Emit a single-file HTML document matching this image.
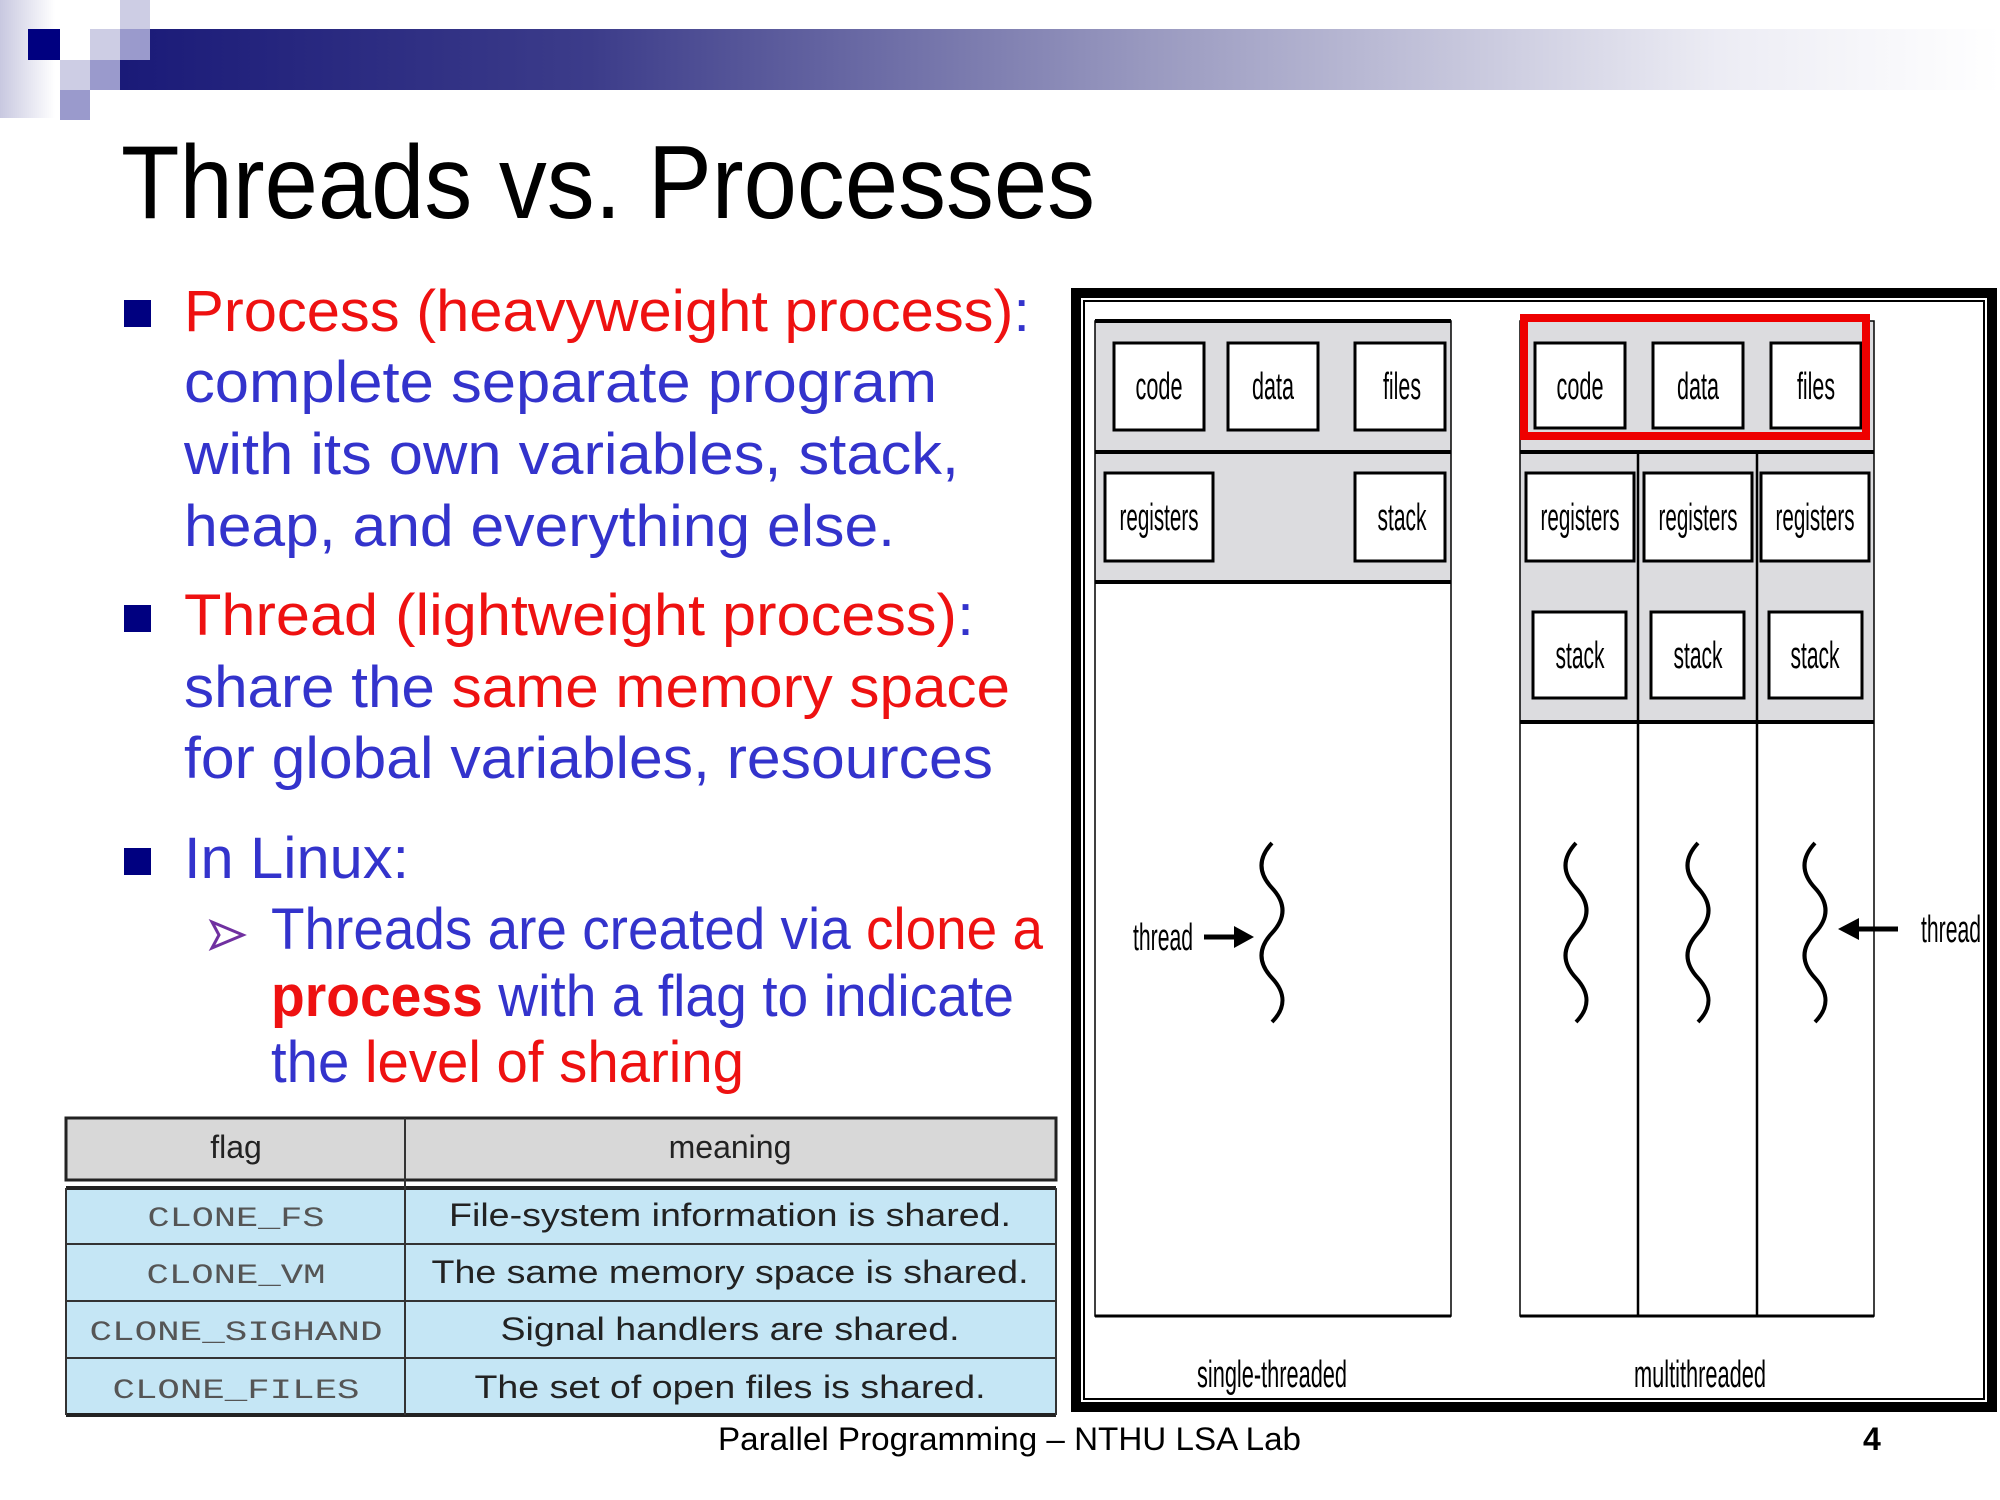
<!DOCTYPE html>
<html><head><meta charset="utf-8"><style>
html,body{margin:0;padding:0;background:#fff;}
svg{display:block;}
</style></head><body>
<svg width="2000" height="1500" viewBox="0 0 2000 1500" xmlns="http://www.w3.org/2000/svg">
<defs>
<linearGradient id="bar" x1="0" x2="1" y1="0" y2="0">
<stop offset="0" stop-color="#1a1a78"/><stop offset="0.25" stop-color="#3c3c8a"/><stop offset="0.55" stop-color="#9a9ac0"/><stop offset="0.85" stop-color="#ececf4"/><stop offset="1" stop-color="#ffffff"/>
</linearGradient>
<linearGradient id="lstrip" x1="0" x2="1"><stop offset="0" stop-color="#c8c8e0"/><stop offset="1" stop-color="#ffffff"/></linearGradient>
</defs>
<rect x="0" y="0" width="55" height="118" fill="url(#lstrip)"/>
<rect x="120" y="29" width="1880" height="61" fill="url(#bar)"/>
<rect x="28" y="29" width="32" height="31" fill="#000080"/>
<rect x="90" y="29" width="30" height="31" fill="#cdcde4"/>
<rect x="120" y="0" width="30" height="29" fill="#cdcde4"/>
<rect x="120" y="29" width="30" height="31" fill="#9a9acc"/>
<rect x="60" y="60" width="30" height="30" fill="#cdcde4"/>
<rect x="90" y="60" width="30" height="30" fill="#9a9acc"/>
<rect x="60" y="90" width="30" height="30" fill="#9a9acc"/>

<g font-family="Liberation Sans, sans-serif">
<text x="121" y="218" font-size="104" fill="#000" textLength="974" lengthAdjust="spacingAndGlyphs">Threads vs. Processes</text>

<rect x="124" y="300" width="27" height="27" fill="#000080"/>
<rect x="124" y="605" width="27" height="27" fill="#000080"/>
<rect x="124" y="848" width="27" height="27" fill="#000080"/>
<path d="M212 922 L243 935 L212 948 L219 935 Z" fill="none" stroke="#7030a0" stroke-width="3"/>

<g font-size="58">
<text x="184" y="331" fill="#ee1111" textLength="846" lengthAdjust="spacingAndGlyphs">Process (heavyweight process)<tspan fill="#3333cc">:</tspan></text>
<text x="184" y="402" fill="#3333cc" textLength="753" lengthAdjust="spacingAndGlyphs">complete separate program</text>
<text x="184" y="474" fill="#3333cc" textLength="775" lengthAdjust="spacingAndGlyphs">with its own variables, stack,</text>
<text x="184" y="546" fill="#3333cc" textLength="711" lengthAdjust="spacingAndGlyphs">heap, and everything else.</text>
<text x="184" y="635" fill="#ee1111" textLength="790" lengthAdjust="spacingAndGlyphs">Thread (lightweight process)<tspan fill="#3333cc">:</tspan></text>
<text x="184" y="707" fill="#3333cc" textLength="826" lengthAdjust="spacingAndGlyphs">share the <tspan fill="#ee1111">same memory space</tspan></text>
<text x="184" y="778" fill="#3333cc" textLength="809" lengthAdjust="spacingAndGlyphs">for global variables, resources</text>
<text x="184" y="878" fill="#3333cc" textLength="225" lengthAdjust="spacingAndGlyphs">In Linux:</text>
<text x="271" y="949" fill="#3333cc" textLength="772" lengthAdjust="spacingAndGlyphs">Threads are created via <tspan fill="#ee1111">clone a</tspan></text>
<text x="271" y="1016" fill="#3333cc" textLength="743" lengthAdjust="spacingAndGlyphs"><tspan fill="#ee1111" font-weight="bold">process</tspan> with a flag to indicate</text>
<text x="271" y="1082" fill="#3333cc" textLength="473" lengthAdjust="spacingAndGlyphs">the <tspan fill="#ee1111">level of sharing</tspan></text>
</g>

<rect x="66" y="1118" width="990" height="62" fill="#d8d8d8" stroke="#222" stroke-width="3"/>
<rect x="66" y="1188" width="990" height="227" fill="#c5e6f5"/>
<line x1="66" y1="1188" x2="1056" y2="1188" stroke="#222" stroke-width="4"/>
<line x1="66" y1="1415" x2="1056" y2="1415" stroke="#222" stroke-width="4"/>
<g stroke="#333" stroke-width="2">
<line x1="66" y1="1244" x2="1056" y2="1244"/><line x1="66" y1="1301" x2="1056" y2="1301"/><line x1="66" y1="1358" x2="1056" y2="1358"/>
<line x1="66" y1="1188" x2="66" y2="1415"/><line x1="1056" y1="1188" x2="1056" y2="1415"/>
<line x1="405" y1="1118" x2="405" y2="1415"/>
</g>
<g font-size="32" fill="#222" text-anchor="middle">
<text x="236" y="1158">flag</text>
<text x="730" y="1158">meaning</text>
<text x="730" y="1226" textLength="562" lengthAdjust="spacingAndGlyphs">File-system information is shared.</text>
<text x="730" y="1283" textLength="597" lengthAdjust="spacingAndGlyphs">The same memory space is shared.</text>
<text x="730" y="1340" textLength="459" lengthAdjust="spacingAndGlyphs">Signal handlers are shared.</text>
<text x="730" y="1398" textLength="511" lengthAdjust="spacingAndGlyphs">The set of open files is shared.</text>
</g>
<g font-family="Liberation Mono, monospace" font-size="28" fill="#555" text-anchor="middle">
<text x="236" y="1226" textLength="177" lengthAdjust="spacingAndGlyphs">CLONE_FS</text>
<text x="236" y="1283" textLength="179" lengthAdjust="spacingAndGlyphs">CLONE_VM</text>
<text x="236" y="1340" textLength="293" lengthAdjust="spacingAndGlyphs">CLONE_SIGHAND</text>
<text x="236" y="1398" textLength="247" lengthAdjust="spacingAndGlyphs">CLONE_FILES</text>
</g>

<text x="718" y="1450" font-size="32" fill="#000" textLength="583" lengthAdjust="spacingAndGlyphs">Parallel Programming – NTHU LSA Lab</text>
<text x="1863" y="1450" font-size="32" font-weight="bold" fill="#000">4</text>

<rect x="1076" y="293" width="916" height="1114" fill="#fff" stroke="#000" stroke-width="10"/>
<rect x="1084" y="301" width="900" height="1098" fill="none" stroke="#000" stroke-width="2"/>

<rect x="1095" y="321" width="356" height="261" fill="#dcdcdf"/>
<rect x="1095" y="321" width="356" height="995" fill="none" stroke="#000" stroke-width="1.5"/>
<g stroke="#000" stroke-width="4">
<line x1="1095" y1="321" x2="1451" y2="321"/><line x1="1095" y1="452" x2="1451" y2="452"/><line x1="1095" y1="582" x2="1451" y2="582"/><line x1="1095" y1="1316" x2="1451" y2="1316" stroke-width="3"/>
</g>
<rect x="1520" y="321" width="354" height="401" fill="#dcdcdf"/>
<rect x="1520" y="321" width="354" height="995" fill="none" stroke="#000" stroke-width="1.5"/>
<g stroke="#000" stroke-width="4">
<line x1="1520" y1="452" x2="1874" y2="452"/><line x1="1520" y1="722" x2="1874" y2="722"/><line x1="1520" y1="1316" x2="1874" y2="1316" stroke-width="3"/>
</g>
<g stroke="#000" stroke-width="2.5">
<line x1="1638" y1="452" x2="1638" y2="1316"/><line x1="1757" y1="452" x2="1757" y2="1316"/>
</g>

<g fill="#fff" stroke="#000" stroke-width="3">
<rect x="1114" y="343" width="90" height="87"/>
<rect x="1228" y="343" width="90" height="87"/>
<rect x="1355" y="343" width="90" height="87"/>
<rect x="1105" y="473" width="108" height="88"/>
<rect x="1355" y="473" width="90" height="88"/>
<rect x="1535" y="343" width="90" height="85"/>
<rect x="1653" y="343" width="90" height="85"/>
<rect x="1771" y="343" width="90" height="85"/>
<rect x="1526" y="473" width="108" height="88"/>
<rect x="1644" y="473" width="108" height="88"/>
<rect x="1761" y="473" width="108" height="88"/>
<rect x="1533" y="612" width="93" height="86"/>
<rect x="1651" y="612" width="93" height="86"/>
<rect x="1769" y="612" width="93" height="86"/>
</g>
<rect x="1524" y="318" width="342" height="118" fill="none" stroke="#ee0000" stroke-width="8"/>

<g font-size="38" fill="#000" text-anchor="middle">
<text x="1159" y="399" textLength="47" lengthAdjust="spacingAndGlyphs">code</text>
<text x="1273" y="399" textLength="42" lengthAdjust="spacingAndGlyphs">data</text>
<text x="1402" y="399" textLength="38" lengthAdjust="spacingAndGlyphs">files</text>
<text x="1159" y="530" textLength="79" lengthAdjust="spacingAndGlyphs">registers</text>
<text x="1402" y="530" textLength="49" lengthAdjust="spacingAndGlyphs">stack</text>
<text x="1580" y="399" textLength="47" lengthAdjust="spacingAndGlyphs">code</text>
<text x="1698" y="399" textLength="42" lengthAdjust="spacingAndGlyphs">data</text>
<text x="1816" y="399" textLength="38" lengthAdjust="spacingAndGlyphs">files</text>
<text x="1580" y="530" textLength="79" lengthAdjust="spacingAndGlyphs">registers</text>
<text x="1698" y="530" textLength="79" lengthAdjust="spacingAndGlyphs">registers</text>
<text x="1815" y="530" textLength="79" lengthAdjust="spacingAndGlyphs">registers</text>
<text x="1580" y="668" textLength="49" lengthAdjust="spacingAndGlyphs">stack</text>
<text x="1698" y="668" textLength="49" lengthAdjust="spacingAndGlyphs">stack</text>
<text x="1815" y="668" textLength="49" lengthAdjust="spacingAndGlyphs">stack</text>
<text x="1163" y="950" textLength="60" lengthAdjust="spacingAndGlyphs">thread</text>
<text x="1951" y="942" textLength="60" lengthAdjust="spacingAndGlyphs">thread</text>
<text x="1272" y="1387" textLength="150" lengthAdjust="spacingAndGlyphs">single-threaded</text>
<text x="1700" y="1387" textLength="132" lengthAdjust="spacingAndGlyphs">multithreaded</text>
</g>

<g fill="none" stroke="#000" stroke-width="4">
<path d="M1272 843 c-14 15 -14 30 0 45 c14 15 14 30 0 45 c-14 15 -14 30 0 45 c14 15 14 30 0 44"/>
<path d="M1576 843 c-14 15 -14 30 0 45 c14 15 14 30 0 45 c-14 15 -14 30 0 45 c14 15 14 30 0 44"/>
<path d="M1698 843 c-14 15 -14 30 0 45 c14 15 14 30 0 45 c-14 15 -14 30 0 45 c14 15 14 30 0 44"/>
<path d="M1815 843 c-14 15 -14 30 0 45 c14 15 14 30 0 45 c-14 15 -14 30 0 45 c14 15 14 30 0 44"/>
<line x1="1204" y1="937" x2="1240" y2="937" stroke-width="5"/>
<line x1="1858" y1="929" x2="1898" y2="929" stroke-width="5"/>
</g>
<path d="M1254 937 L1234 926 L1234 948 Z" fill="#000"/>
<path d="M1838 929 L1859 918 L1859 940 Z" fill="#000"/>
</g>
</svg>
</body></html>
